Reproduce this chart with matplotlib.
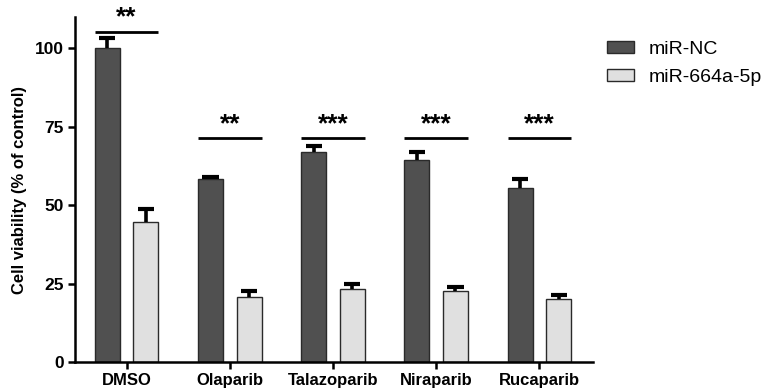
import numpy as np
import matplotlib.pyplot as plt
from matplotlib.patches import Patch

plt.rcParams['font.family'] = ['Liberation Sans', 'DejaVu Sans']

# data
treatments = ['DMSO', 'Olaparib', 'Talazoparib', 'Niraparib', 'Rucaparib']
nc_mean = [100.0, 58.3, 66.9, 64.3, 55.5]
nc_err = [3.4, 0.8, 1.9, 2.5, 2.8]
mir_mean = [44.5, 20.6, 23.2, 22.7, 20.0]
mir_err = [4.2, 1.9, 1.6, 1.1, 1.3]
sig_labels = ['**', '**', '***', '***', '***']
sig_levels = [105.2, 71.3, 71.3, 71.3, 71.3]

dark = '#505050'
light = '#e0e0e0'
edge = '#2a2a2a'

fig = plt.figure(figsize=(7.61, 3.89), dpi=100)
ax = fig.add_axes([75 / 761, 1 - 362 / 389, (593 - 75) / 761, (362 - 17) / 389])

x = np.arange(len(treatments))
off = 0.187
w = 0.243
cap = 0.078  # half cap width in x units

ax.bar(x - off, nc_mean, width=w, color=dark, edgecolor=edge, linewidth=1.0, zorder=2)
ax.bar(x + off, mir_mean, width=w, color=light, edgecolor=edge, linewidth=1.0, zorder=2)

# upper-only error bars
for xs, m, e in [(x - off, nc_mean, nc_err), (x + off, mir_mean, mir_err)]:
    m = np.asarray(m)
    top = m + np.asarray(e)
    ax.vlines(xs, m, top, color='black', linewidth=2.6, zorder=3)
    ax.hlines(top, xs - cap, xs + cap, color='black', linewidth=3.0, zorder=3)

# significance bars
for i, (lab, lv) in enumerate(zip(sig_labels, sig_levels)):
    x0 = i - off - w / 2
    x1 = i + off + w / 2
    ax.plot([x0, x1], [lv, lv], color='black', linewidth=2.0, solid_capstyle='butt',
            clip_on=False)
    ax.text(i, lv + 2.4, lab, ha='center', va='baseline', fontsize=19,
            fontweight='bold', clip_on=False)

ax.set_xlim(-0.5, 4.52)
ax.set_ylim(0, 110)
ax.set_yticks([0, 25, 50, 75, 100])
ax.set_xticks(x)
ax.set_xticklabels(treatments, fontsize=12, fontweight='bold')
for t in ax.get_yticklabels():
    t.set_fontsize(12.5)
    t.set_fontweight('bold')
ax.tick_params(axis='both', width=1.8, length=5, direction='out', pad=3)
ax.set_ylabel('Cell viability (% of control)', fontsize=12, fontweight='bold', labelpad=6)

for s in ['top', 'right']:
    ax.spines[s].set_visible(False)
for s in ['left', 'bottom']:
    ax.spines[s].set_linewidth(1.8)

handles = [Patch(facecolor=dark, edgecolor=edge, label='miR-NC'),
           Patch(facecolor=light, edgecolor=edge, label='miR-664a-5p')]
fig.legend(handles=handles, loc='upper left', bbox_to_anchor=(601 / 761, 1 - 35 / 389),
           frameon=False, fontsize=14, handlelength=1.4, handleheight=0.62,
           handletextpad=0.75, labelspacing=0.55, borderaxespad=0, borderpad=0.3)

fig.savefig('out.png', dpi=100)
